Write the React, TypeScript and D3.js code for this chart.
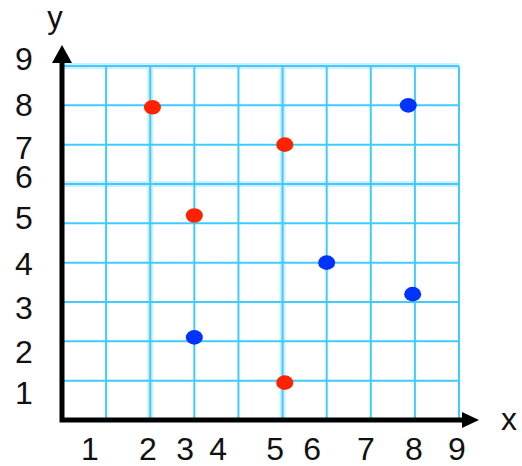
import React from "react";
import * as d3 from "d3";

// tick values and where each label sits (in data units, labels are hand placed in the original)
const xTicks = [1, 2, 3, 4, 5, 6, 7, 8, 9];
const xTickAt = [0.63, 1.95, 2.79, 3.54, 4.83, 5.67, 6.89, 7.98, 8.95];
const yTicks = [1, 2, 3, 4, 5, 6, 7, 8, 9];
const yTickAt = [0.69, 1.73, 2.85, 3.99, 5.14, 6.18, 6.94, 8.01, 9.2];
const gridLines = [1, 2, 3, 4, 5, 6, 7, 8, 9];

// points
const redPoints = [
  { x: 2.05, y: 7.95 },
  { x: 5.05, y: 7 },
  { x: 3, y: 5.2 },
  { x: 5.05, y: 0.95 },
];
const bluePoints = [
  { x: 7.85, y: 8 },
  { x: 6, y: 4 },
  { x: 7.95, y: 3.2 },
  { x: 3, y: 2.1 },
];

// grid lines that look smeared in the original
const blurredX = [2, 5];
const blurredY = [6, 9];

export default function App() {
  const width = 522,
    height = 466;
  const x = d3.scaleLinear().domain([0, 9]).range([62, 459]);
  const y = d3.scaleLinear().domain([0, 9]).range([420, 66]);
  const font = "'Liberation Sans', Arial, sans-serif";
  const gridColor = "#3fcbff";
  const haloColor = "#cdefff";

  return (
    <svg
      width={width}
      height={height}
      style={{ position: "absolute", left: 0, top: 0, background: "#fff" }}
      fontFamily={font}
    >
      {/* grid: soft halos first, then the sharp lines */}
      <g>
        {blurredX.map((v) => (
          <line key={"hx" + v} x1={x(v)} x2={x(v)} y1={y(9)} y2={y(0)} stroke={haloColor} strokeWidth={6} />
        ))}
        {blurredY.map((v) => (
          <line key={"hy" + v} x1={x(0)} x2={x(9)} y1={y(v)} y2={y(v)} stroke={haloColor} strokeWidth={6} />
        ))}
        {gridLines.map((v) => (
          <line key={"v" + v} x1={x(v)} x2={x(v)} y1={y(9)} y2={y(0)} stroke={gridColor} strokeWidth={2} />
        ))}
        {gridLines.map((v) => (
          <line key={"h" + v} x1={x(0)} x2={x(9)} y1={y(v)} y2={y(v)} stroke={gridColor} strokeWidth={2} />
        ))}
      </g>

      {/* axes */}
      <path
        d={`M${x(0)},${y(9) - 6} L${x(0)},${y(0)} L${x(9) + 6},${y(0)}`}
        fill="none"
        stroke="#000"
        strokeWidth={5}
        strokeLinejoin="miter"
      />
      <path
        d={`M${x(0)},${y(9) - 21} L${x(0) - 10},${y(9) - 3} L${x(0) + 10},${y(9) - 3} Z`}
        fill="#000"
      />
      <path
        d={`M${x(9) + 20},${y(0)} L${x(9) + 3},${y(0) - 8} L${x(9) + 3},${y(0) + 8} Z`}
        fill="#000"
      />

      {/* points */}
      {redPoints.map((d, i) => (
        <ellipse key={"r" + i} cx={x(d.x)} cy={y(d.y)} rx={8.5} ry={7.3} fill="#ff2200" />
      ))}
      {bluePoints.map((d, i) => (
        <ellipse key={"b" + i} cx={x(d.x)} cy={y(d.y)} rx={8.5} ry={7.3} fill="#0033ff" />
      ))}

      {/* tick labels */}
      {xTicks.map((t, i) => (
        <text key={"xt" + t} x={x(xTickAt[i])} y={460} textAnchor="middle" fontSize={32} fill="#111">
          {t}
        </text>
      ))}
      {yTicks.map((t, i) => (
        <text
          key={"yt" + t}
          x={24}
          y={y(yTickAt[i]) + 11.5}
          textAnchor="middle"
          fontSize={32}
          fill="#111"
        >
          {t}
        </text>
      ))}

      {/* axis titles */}
      <text x={55} y={28} textAnchor="middle" fontSize={31} fill="#111">
        y
      </text>
      <text x={509} y={430} textAnchor="middle" fontSize={32} fill="#111">
        x
      </text>
    </svg>
  );
}
